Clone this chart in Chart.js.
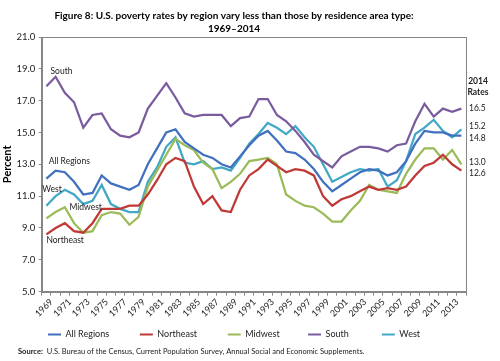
<!DOCTYPE html>
<html>
<head>
<meta charset="utf-8">
<script src="https://cdn.jsdelivr.net/npm/chart.js@4.4.1/dist/chart.umd.min.js"></script>
<style>
  html, body { margin: 0; padding: 0; background: #fff; }
  #wrap { width: 500px; height: 361px; position: relative; }
</style>
</head>
<body>
<div id="wrap"><canvas id="poverty_chart"></canvas></div>
<script>
// values, 1969-2014
const years = [];
for (let y = 1969; y <= 2014; y++) years.push(String(y));

const allRegions = [12.1, 12.6, 12.5, 11.9, 11.1, 11.2, 12.3, 11.8, 11.6, 11.4, 11.7,
  13.0, 14.0, 15.0, 15.2, 14.4, 14.0, 13.6, 13.4, 13.0, 12.8,
  13.5, 14.2, 14.8, 15.1, 14.5, 13.8, 13.7, 13.3, 12.7, 11.9,
  11.3, 11.7, 12.1, 12.5, 12.7, 12.6, 12.3, 12.5, 13.2, 14.3,
  15.1, 15.0, 15.0, 14.8, 14.8];
const northeast = [8.6, 9.0, 9.3, 8.8, 8.7, 9.3, 10.2, 10.2, 10.2, 10.4, 10.4,
  11.1, 12.0, 13.0, 13.4, 13.2, 11.6, 10.5, 11.0, 10.1, 10.0,
  11.4, 12.3, 12.7, 13.3, 12.9, 12.5, 12.7, 12.6, 12.3, 11.0,
  10.4, 10.8, 11.0, 11.3, 11.6, 11.4, 11.5, 11.4, 11.6, 12.3,
  12.9, 13.1, 13.6, 13.0, 12.6];
const midwest = [9.6, 10.0, 10.3, 9.3, 8.7, 8.8, 9.8, 10.0, 9.9, 9.2, 9.7,
  11.6, 12.6, 13.6, 14.6, 14.2, 13.9, 13.1, 12.7, 11.5, 11.9,
  12.4, 13.2, 13.3, 13.4, 13.0, 11.1, 10.7, 10.4, 10.3, 9.9,
  9.4, 9.4, 10.1, 10.7, 11.7, 11.4, 11.3, 11.2, 12.4, 13.3,
  14.0, 14.0, 13.3, 13.9, 13.0];
const south = [17.9, 18.5, 17.5, 16.9, 15.3, 16.1, 16.2, 15.2, 14.8, 14.7, 15.0,
  16.5, 17.3, 18.1, 17.2, 16.2, 16.0, 16.1, 16.1, 16.1, 15.4,
  15.9, 16.0, 17.1, 17.1, 16.1, 15.7, 15.1, 14.4, 13.6, 13.2,
  12.8, 13.5, 13.8, 14.1, 14.1, 14.0, 13.8, 14.2, 14.3, 15.7,
  16.8, 16.0, 16.5, 16.3, 16.5];
const west = [10.4, 11.0, 11.4, 11.1, 10.5, 10.7, 11.7, 10.5, 10.2, 10.0, 10.0,
  11.9, 12.8, 14.1, 14.7, 13.1, 13.0, 13.2, 12.7, 12.8, 12.6,
  13.4, 14.3, 14.9, 15.6, 15.3, 14.9, 15.4, 14.7, 14.1, 13.0,
  11.9, 12.2, 12.5, 12.7, 12.6, 12.7, 11.6, 12.0, 13.2, 14.9,
  15.3, 15.8, 15.1, 14.7, 15.2];

const seriesNames = ['All Regions', 'Northeast', 'Midwest', 'South', 'West'];
const seriesColors = ['#4170BF', '#BF3A36', '#9BBB59', '#7A5C9E', '#43A8C6'];
const yTicks = [5, 7, 9, 11, 13, 15, 17, 19, 21];

const FONT = 'Lato, "Open Sans", sans-serif';

// in-plot series labels: [text, category index, value]
const lineLabels = [
  ['South', 0.45, 18.85],
  ['All Regions', 0.25, 13.2],
  ['West', -0.45, 11.45],
  ['Midwest', 2.5, 10.3],
  ['Northeast', 0, 8.25]
];
// small vertical nudges so the 2014 rate labels do not collide
const rateNudge = [3, 3, -2.5, 0, -3];
// extra spacing after each legend entry (non-breaking spaces)
const legendGap = [9, 9, 8, 10, 0];

const boxPlugin = {
  id: 'plotBox',
  afterDraw(chart) {
    const a = chart.chartArea, ctx = chart.ctx;
    ctx.save();
    ctx.strokeStyle = '#868686';
    ctx.lineWidth = 1;
    ctx.strokeRect(Math.round(a.left) + 0.5, Math.round(a.top) + 0.5,
      Math.round(a.right - a.left), Math.round(a.bottom - a.top));
    ctx.restore();
  }
};

const textPlugin = {
  id: 'extraText',
  afterDraw(chart) {
    const ctx = chart.ctx, xs = chart.scales.x, ys = chart.scales.y;
    const a = chart.chartArea;
    ctx.save();
    ctx.fillStyle = '#222';
    ctx.textBaseline = 'middle';
    ctx.textAlign = 'left';
    ctx.font = '8.5px ' + FONT;
    lineLabels.forEach(function(l) {
      ctx.fillText(l[0], xs.getPixelForValue(l[1]), ys.getPixelForValue(l[2]));
    });

    // 2014 rates at the right
    ctx.font = 'bold 8.5px ' + FONT;
    ctx.textAlign = 'center';
    ctx.fillText('2014', a.right + 12, 81);
    ctx.fillText('Rates', a.right + 12, 92);
    ctx.font = '8.5px ' + FONT;
    ctx.textAlign = 'left';
    chart.data.datasets.forEach(function(ds, i) {
      const v = ds.data[ds.data.length - 1];
      ctx.fillText(v.toFixed(1), a.right + 3, ys.getPixelForValue(v) + rateNudge[i]);
    });

    // source line
    ctx.font = 'bold 7.5px ' + FONT;
    ctx.fillText('Source:', 18, 352);
    const w = ctx.measureText('Source:').width;
    ctx.font = '7.5px ' + FONT;
    ctx.fillText('U.S. Bureau of the Census, Current Population Survey, Annual Social and Economic Supplements.', 18 + w + 4, 352);
    ctx.restore();
  }
};

document.addEventListener("DOMContentLoaded", function() {
  const el = document.getElementById("poverty_chart");
  const seriesData = [allRegions, northeast, midwest, south, west];

  const data = {
    labels: years,
    datasets: seriesNames.map(function(name, i) {
      return {
        label: name,
        data: seriesData[i],
        borderColor: seriesColors[i],
        backgroundColor: seriesColors[i],
        borderWidth: 2.25,
        pointRadius: 0,
        tension: 0
      };
    })
  };

  const options = {
    responsive: true,
    maintainAspectRatio: false,
    animation: false,
    layout: { padding: { left: 2, right: 34, top: 0, bottom: 12 } },
    plugins: {
      title: {
        display: true,
        text: ['Figure 8: U.S. poverty rates by region vary less than those by residence area type:', '1969\u20132014'],
        color: '#000',
        font: { family: FONT, size: 10, weight: 'bold', lineHeight: 1.3 },
        padding: { top: 9, bottom: 2 }
      },
      legend: {
        position: 'bottom',
        labels: {
          color: '#222',
          font: { family: FONT, size: 9 },
          boxWidth: 13,
          boxHeight: 2,
          padding: 10,
          generateLabels: function(chart) {
            const items = Chart.defaults.plugins.legend.labels.generateLabels(chart);
            items.forEach(function(it, i) {
              it.text = it.text + '\u00A0'.repeat(legendGap[i]);
              it.lineWidth = 0;
            });
            return items;
          }
        }
      },
      tooltip: { enabled: false }
    },
    scales: {
      x: {
        offset: true,
        grid: { display: true, drawOnChartArea: false, drawTicks: true, tickLength: 4, offset: true, color: '#868686' },
        border: { color: '#868686' },
        ticks: {
          autoSkip: false,
          maxRotation: 45,
          minRotation: 45,
          padding: 1,
          labelOffset: 5,
          color: '#222',
          font: { family: FONT, size: 9 },
          callback: function(val, idx) { return idx % 2 === 0 ? years[idx] : ''; }
        }
      },
      y: {
        min: 5,
        max: 21,
        afterBuildTicks: function(axis) { axis.ticks = yTicks.map(function(v) { return { value: v }; }); },
        grid: { display: true, drawOnChartArea: false, drawTicks: true, tickLength: 3, color: '#868686' },
        border: { color: '#868686' },
        title: { display: true, text: 'Percent', color: '#000', font: { family: FONT, size: 11, weight: 'bold', lineHeight: 1.0 }, padding: 0 },
        ticks: {
          color: '#222',
          padding: 3.5,
          font: { family: FONT, size: 9.5 },
          callback: function(v) { return Number(v).toFixed(1); }
        }
      }
    }
  };

  new Chart(el, { type: 'line', data: data, options: options, plugins: [boxPlugin, textPlugin] });
});
</script>
</body>
</html>
